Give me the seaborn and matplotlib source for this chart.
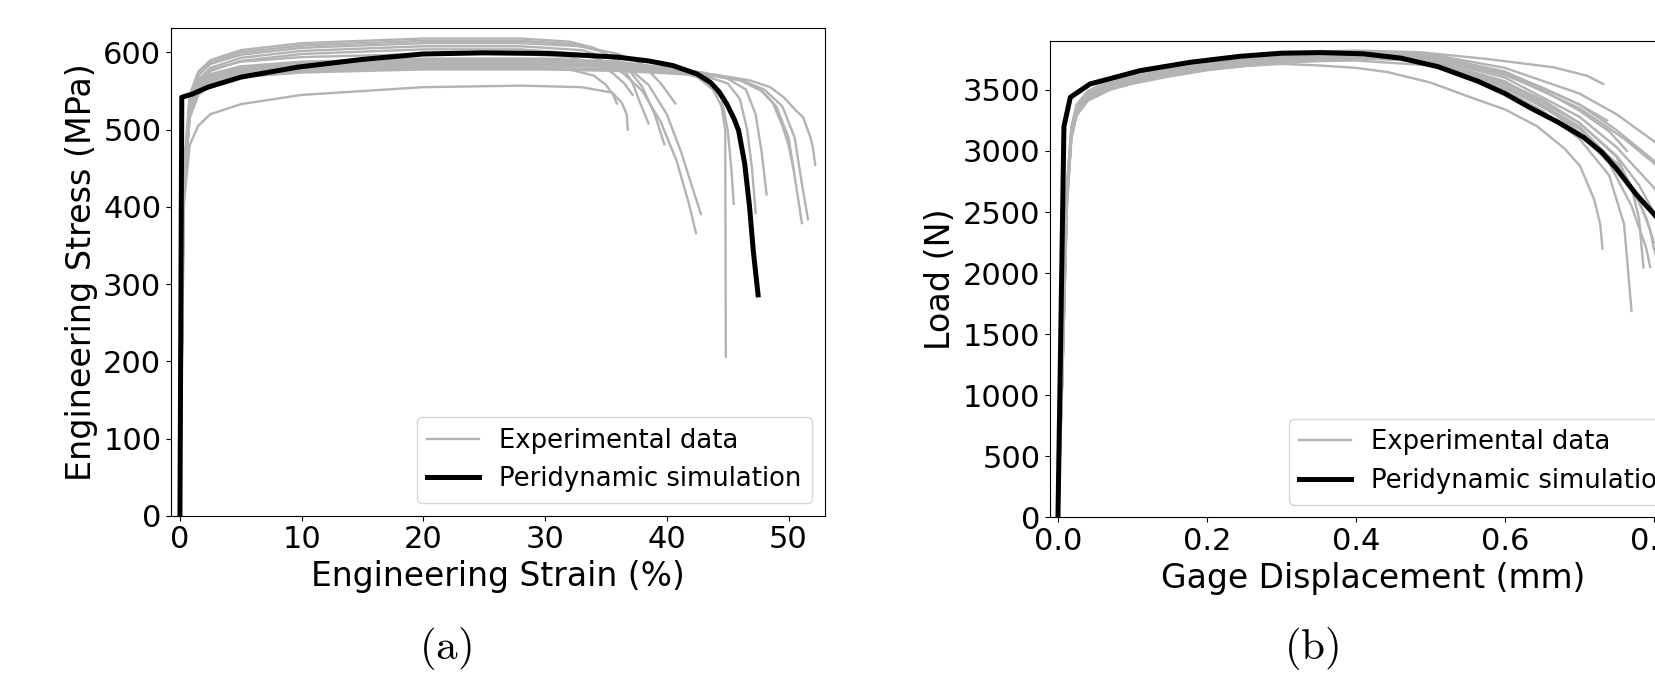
import numpy as np
import pandas as pd
import matplotlib
matplotlib.use("Agg")
import matplotlib.pyplot as plt
import seaborn as sns

# ---- (a) engineering stress-strain, experimental curves (strain %, stress MPa)
exp_strain = [
    [0, 0.3, 0.8, 1.5, 2.5, 5, 10, 20, 28, 32, 34, 35.5, 36.5, 37.2, 37.8, 38.5],
    [0, 0.35, 0.9, 1.6, 2.5, 5, 10, 20, 28, 32, 34.5, 36, 37, 38, 39, 39.8],
    [0, 0.3, 0.8, 1.5, 2.5, 5, 10, 20, 28, 33, 36, 38, 39.5, 40.2, 40.7],
    [0, 0.35, 0.9, 1.6, 2.5, 5, 10, 20, 28, 33, 35.5, 37, 38.5, 40, 41.2, 42.2, 42.8],
    [0, 0.3, 0.8, 1.5, 2.5, 5, 10, 20, 28, 33, 35, 36.5, 38, 39.5, 40.8, 41.8, 42.4],
    [0, 0.3, 0.8, 1.5, 2.5, 5, 10, 20, 28, 32, 34, 35, 35.6, 35.9],
    [0, 0.3, 0.8, 1.5, 2.5, 5, 10, 20, 28, 33, 35.5, 36.3, 36.7, 36.8],
    [0, 0.3, 0.8, 1.5, 2.5, 5, 10, 20, 28, 32, 34, 35.5, 36.5, 37.2],
    [0, 0.3, 0.8, 1.5, 2.5, 5, 10, 20, 30, 36, 40, 42.5, 43.8, 44.5, 44.8, 44.85],
    [0, 0.3, 0.8, 1.5, 2.5, 5, 10, 20, 30, 36, 40, 42, 43.5, 44.5, 45.0, 45.3, 45.5],
    [0, 0.3, 0.8, 1.5, 2.5, 5, 10, 20, 30, 36, 40, 43, 45, 46, 46.6, 47, 47.3],
    [0, 0.3, 0.8, 1.5, 2.5, 5, 10, 20, 30, 36, 40, 43, 45, 46.5, 47.3, 47.8, 48.2],
    [0, 0.3, 0.8, 1.5, 2.5, 5, 10, 20, 30, 36, 40, 44, 46, 47.5, 48.7, 49.5, 50.0, 50.4],
    [0, 0.3, 0.8, 1.5, 2.5, 5, 10, 20, 30, 36, 40, 44, 46, 47.8, 49, 50, 50.6, 51.1],
    [0, 0.3, 0.8, 1.5, 2.5, 5, 10, 20, 30, 36, 40, 44, 46, 48, 49.5, 50.5, 51.1, 51.6],
    [0, 0.3, 0.8, 1.5, 2.5, 5, 10, 20, 30, 36, 40, 44, 46.8, 48.5, 49.6, 50.6, 51.2, 51.8, 52.0, 52.2],
]
exp_stress = [
    [0, 445, 545, 575, 590, 603, 612, 618, 618, 614, 606, 594, 578, 560, 535, 508],
    [0, 440, 540, 572, 587, 600, 609, 615, 615, 611, 602, 590, 575, 555, 520, 481],
    [0, 440, 540, 570, 585, 597, 606, 612, 612, 608, 598, 585, 560, 545, 534],
    [0, 430, 535, 566, 580, 593, 602, 608, 608, 603, 592, 578, 558, 520, 470, 420, 391],
    [0, 430, 530, 560, 576, 589, 598, 604, 604, 598, 588, 572, 550, 510, 460, 405, 366],
    [0, 420, 515, 545, 558, 568, 576, 581, 582, 578, 570, 558, 545, 534],
    [0, 400, 480, 505, 520, 533, 545, 555, 557, 555, 548, 535, 520, 500],
    [0, 430, 535, 563, 578, 588, 594, 598, 598, 594, 586, 574, 560, 545],
    [0, 430, 530, 560, 572, 582, 588, 592, 592, 588, 580, 568, 552, 530, 500, 206],
    [0, 425, 525, 556, 568, 578, 584, 588, 588, 585, 578, 572, 562, 540, 500, 450, 404],
    [0, 425, 522, 553, 565, 575, 581, 585, 585, 583, 577, 570, 560, 540, 500, 450, 392],
    [0, 430, 528, 558, 570, 580, 586, 590, 590, 587, 580, 574, 566, 552, 520, 470, 416],
    [0, 420, 518, 548, 560, 570, 576, 580, 580, 578, 575, 570, 565, 555, 535, 505, 480, 450],
    [0, 422, 520, 551, 563, 573, 579, 583, 583, 581, 577, 571, 564, 550, 530, 490, 430, 379],
    [0, 418, 516, 546, 558, 568, 574, 578, 578, 576, 573, 569, 564, 552, 530, 490, 430, 384],
    [0, 425, 524, 554, 566, 576, 582, 586, 586, 584, 578, 571, 564, 555, 542, 525, 516, 490, 477, 454],
]
sim_strain = [0, 0.15, 1, 2.3, 5, 9.7, 15, 20, 25, 30.4, 35.9, 38.5, 40.5, 42.5, 43.6,
              44.3, 44.9, 45.5, 45.9, 46.4, 46.8, 47.1, 47.5]
sim_stress = [0, 542, 546, 555, 568, 581, 591, 598, 599.5, 598.6, 594, 589, 583, 572, 561,
              549, 534, 515, 499, 456, 400, 344, 286]

# ---- (b) load-displacement, experimental curves (mm, N)
early_disp = [0, 0.006, 0.012, 0.018, 0.025, 0.04, 0.07, 0.1, 0.15, 0.2, 0.25, 0.3, 0.35, 0.4]
exp_disp = [
    early_disp + [0.486, 0.576, 0.665, 0.71, 0.732],
    early_disp + [0.442, 0.5, 0.553, 0.6, 0.643, 0.68, 0.701, 0.72, 0.728, 0.731],
    early_disp + [0.5, 0.55, 0.6, 0.65, 0.7, 0.74, 0.76, 0.77],
    early_disp + [0.5, 0.6, 0.65, 0.7, 0.75, 0.77, 0.78, 0.786],
    early_disp + [0.5, 0.6, 0.65, 0.7, 0.737],
    early_disp + [0.5, 0.6, 0.65, 0.7, 0.74, 0.764],
    early_disp + [0.5, 0.6, 0.7, 0.75, 0.8, 0.84, 0.86],
    early_disp + [0.5, 0.6, 0.7, 0.75, 0.8, 0.83, 0.85],
    early_disp + [0.5, 0.6, 0.7, 0.75, 0.78, 0.8, 0.82],
    early_disp + [0.5, 0.6, 0.7, 0.75, 0.78, 0.795, 0.8, 0.81],
    early_disp + [0.5, 0.6, 0.7, 0.74, 0.77, 0.79, 0.8],
    early_disp + [0.5, 0.6, 0.7, 0.76, 0.8, 0.84],
    early_disp + [0.5, 0.6, 0.66, 0.7, 0.74, 0.77, 0.79, 0.795],
    early_disp + [0.5, 0.6, 0.7, 0.75, 0.8, 0.85],
]
exp_load = [
    [0, 1300, 2700, 3200, 3380, 3490, 3580, 3630, 3690, 3735, 3770, 3795, 3815, 3822, 3808, 3753, 3685, 3616, 3548],
    [0, 1200, 2600, 3120, 3300, 3420, 3510, 3560, 3620, 3665, 3695, 3712, 3700, 3680, 3646, 3560, 3441, 3340, 3203, 3020, 2876, 2600, 2400, 2200],
    [0, 1150, 2550, 3100, 3290, 3410, 3500, 3550, 3610, 3660, 3695, 3720, 3735, 3740, 3700, 3620, 3500, 3330, 3100, 2800, 2400, 1690],
    [0, 1250, 2650, 3150, 3320, 3440, 3530, 3580, 3640, 3685, 3715, 3740, 3755, 3765, 3730, 3560, 3420, 3230, 2950, 2700, 2450, 2046],
    [0, 1250, 2650, 3160, 3330, 3450, 3540, 3590, 3650, 3695, 3730, 3755, 3775, 3790, 3780, 3640, 3520, 3380, 3250],
    [0, 1200, 2600, 3140, 3320, 3440, 3530, 3585, 3645, 3690, 3722, 3748, 3765, 3778, 3770, 3620, 3500, 3330, 3160, 3000],
    [0, 1300, 2700, 3180, 3350, 3460, 3550, 3600, 3660, 3705, 3740, 3765, 3780, 3795, 3780, 3650, 3380, 3170, 2920, 2650, 2400],
    [0, 1250, 2650, 3150, 3330, 3450, 3540, 3590, 3650, 3695, 3728, 3752, 3768, 3780, 3760, 3600, 3280, 3030, 2700, 2400, 2100],
    [0, 1200, 2600, 3130, 3310, 3430, 3520, 3575, 3635, 3680, 3712, 3738, 3755, 3768, 3750, 3570, 3230, 2960, 2720, 2500, 2200],
    [0, 1150, 2550, 3110, 3300, 3420, 3510, 3565, 3625, 3672, 3705, 3730, 3748, 3760, 3740, 3540, 3180, 2900, 2600, 2350, 2200, 2000],
    [0, 1200, 2600, 3120, 3305, 3425, 3515, 3570, 3630, 3676, 3708, 3734, 3752, 3763, 3745, 3560, 3200, 2950, 2700, 2450, 2250],
    [0, 1250, 2650, 3160, 3335, 3455, 3545, 3595, 3655, 3700, 3733, 3758, 3774, 3785, 3770, 3630, 3350, 3100, 2900, 2600],
    [0, 1200, 2600, 3120, 3300, 3420, 3510, 3565, 3625, 3670, 3702, 3728, 3745, 3757, 3740, 3520, 3330, 3150, 2900, 2550, 2200, 2050],
    [0, 1300, 2700, 3190, 3360, 3470, 3560, 3610, 3670, 3715, 3750, 3775, 3792, 3805, 3790, 3680, 3470, 3300, 3080, 2750],
]
sim_disp = [0, 0.008, 0.0166, 0.043, 0.11, 0.178, 0.245, 0.3, 0.352, 0.41, 0.46, 0.51,
            0.564, 0.6, 0.635, 0.67, 0.706, 0.73, 0.749, 0.777, 0.802, 0.83, 0.85]
sim_load = [0, 3200, 3439, 3548, 3657, 3726, 3775, 3800, 3805, 3795, 3760, 3690,
            3570, 3470, 3350, 3240, 3110, 2990, 2860, 2640, 2470, 2250, 2080]

GRAY = "#b3b3b3"


def long_frame(xs, ys):
    rows = []
    for i, (x, y) in enumerate(zip(xs, ys)):
        rows.append(pd.DataFrame({"x": x, "y": y, "unit": i}))
    return pd.concat(rows, ignore_index=True)


def draw_panel(ax, xs, ys, sx, sy):
    sns.lineplot(data=long_frame(xs, ys), x="x", y="y", units="unit",
                 estimator=None, sort=False, color=GRAY, lw=1.7,
                 legend=False, ax=ax)
    exp_handle = ax.lines[0]
    sim = pd.DataFrame({"x": sx, "y": sy})
    sns.lineplot(data=sim, x="x", y="y", sort=False, color="black", lw=3.6,
                 legend=False, ax=ax)
    sim_handle = ax.lines[-1]
    ax.legend([exp_handle, sim_handle],
              ["Experimental data", "Peridynamic simulation"],
              loc="lower right", fontsize=18.6)
    ax.tick_params(labelsize=22)


fig = plt.figure(figsize=(16.56, 6.73), dpi=100)
ax1 = fig.add_axes([0.1033, 0.2337, 0.3949, 0.7251])
ax2 = fig.add_axes([0.6341, 0.2311, 0.3907, 0.708])

draw_panel(ax1, exp_strain, exp_stress, sim_strain, sim_stress)
ax1.set_xlim(-0.73, 53.0)
ax1.set_ylim(0, 632)
ax1.set_xticks([0, 10, 20, 30, 40, 50])
ax1.set_yticks([0, 100, 200, 300, 400, 500, 600])
ax1.set_xlabel("Engineering Strain (%)", fontsize=23.7)
ax1.set_ylabel("Engineering Stress (MPa)", fontsize=24)

draw_panel(ax2, exp_disp, exp_load, sim_disp, sim_load)
ax2.set_xlim(-0.0106, 0.858)
ax2.set_ylim(0, 3900)
ax2.set_xticks([0.0, 0.2, 0.4, 0.6, 0.8])
ax2.set_yticks(np.arange(0, 4000, 500))
ax2.set_xlabel("Gage Displacement (mm)", fontsize=23.7)
ax2.set_ylabel("Load (N)", fontsize=24)

plt.rcParams["mathtext.fontset"] = "cm"
fig.text(0.2691, 0.0366, r"$(\mathrm{a})$", fontsize=31, ha="center", va="center")
fig.text(0.7920, 0.0366, r"$(\mathrm{b})$", fontsize=31, ha="center", va="center")

fig.savefig("out.png", dpi=100)
plt.close(fig)
